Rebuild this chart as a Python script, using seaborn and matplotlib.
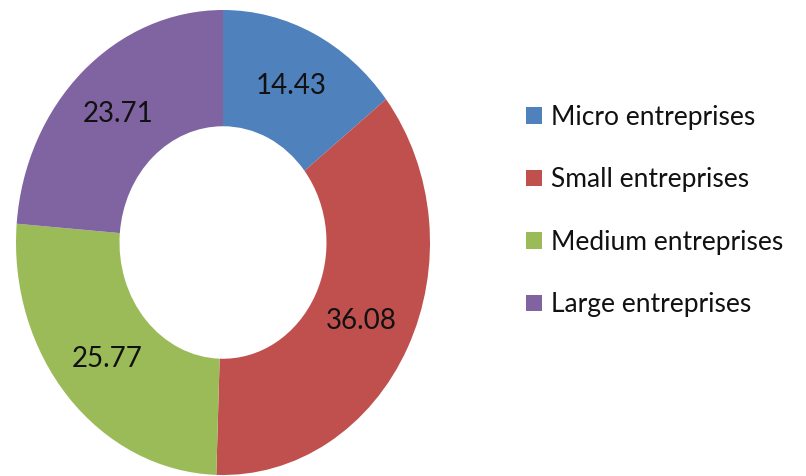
import numpy as np
import matplotlib
matplotlib.use("Agg")
import matplotlib.pyplot as plt
from matplotlib.patches import Patch
import seaborn as sns

# Share of enterprises by size class
categories = ["Micro entreprises", "Small entreprises", "Medium entreprises", "Large entreprises"]
values = [14.43, 36.08, 25.77, 23.71]
value_labels = ["14.43", "36.08", "25.77", "23.71"]
colors = ["#4F81BD", "#C0504D", "#9BBB59", "#8064A2"]

sns.set_theme(style="white")
plt.rcParams["font.family"] = ["Lato", "DejaVu Sans"]

fig = plt.figure(figsize=(8.06, 4.76), dpi=100)
fig.patch.set_facecolor("white")

W, H = 806, 476
# donut axes: stretched a little vertically
left_px, right_px, top_px, bottom_px = 16, 430, 10, 475
ax = fig.add_axes([left_px / W, 1 - bottom_px / H,
                   (right_px - left_px) / W, (bottom_px - top_px) / H])

palette = sns.color_palette(colors)
wedges, _ = ax.pie(values, colors=palette, startangle=90, counterclock=False,
                   radius=1.0, wedgeprops=dict(width=0.5, linewidth=0))
ax.set_aspect("auto")
ax.set_xlim(-1, 1)
ax.set_ylim(-1, 1)
ax.axis("off")

for w, lab in zip(wedges, value_labels):
    mid = np.deg2rad((w.theta1 + w.theta2) / 2)
    r = 0.75
    ax.text(r * np.cos(mid), r * np.sin(mid), lab, ha="center", va="center",
            fontsize=20, color="#111111")

handles = [Patch(facecolor=c, edgecolor="none") for c in palette]
fig.legend(handles, categories, loc="center left",
           bbox_to_anchor=(526 / W, 1 - 211 / H), frameon=False,
           fontsize=19, handlelength=0.6, handleheight=0.6,
           handletextpad=0.35, labelspacing=1.42, borderaxespad=0,
           borderpad=0, labelcolor="#111111")

fig.savefig("out.png", dpi=100, facecolor="white")
